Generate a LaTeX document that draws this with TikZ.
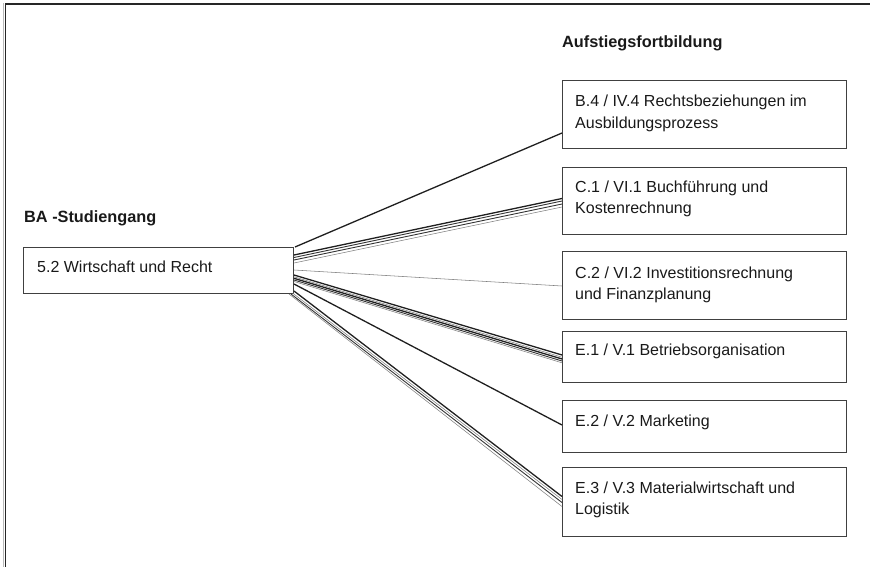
\documentclass[tikz,border=0pt]{standalone}
\usepackage{fontspec}
\setmainfont{Liberation Sans}
\usetikzlibrary{calc}
\begin{document}
\begin{tikzpicture}[x=1pt,y=-1pt,
  box/.style={draw=black!75, line width=1pt, inner sep=0pt, anchor=north west, minimum width=284pt},
  txt/.style={anchor=base west, inner sep=0pt, text=black!90},
  ttl/.style={anchor=base west, inner sep=0pt, text=black!90, font=\fontsize{16.3}{20}\selectfont\bfseries},
  con/.style={line width=1.3pt, draw=black!88},
  conb/.style={line width=0.9pt, draw=black!80},
  cong/.style={line width=0.55pt, draw=black!50},
]
\newcommand{\boxtext}[1]{\parbox[t]{272pt}{\raggedright\fontsize{16}{21}\selectfont #1}}
\useasboundingbox (0,0) rectangle (870,567);
% frame
\draw[gray!55, line width=0.9pt] (3,567) -- (3,3);
\draw[black!85, line width=1.6pt] (5.5,567) -- (5.5,3.8) -- (870,3.8);

% headings
\node[ttl] (hd1) at (562,48) {Aufstiegsfortbildung};
\node[ttl] (hd2) at (24,222) {BA -Studiengang};

% left box
\node[box, minimum width=270pt, minimum height=46pt] (a) at (23,247) {};
\node[txt] (t0) at ($(a.north west)+(14,25)$) {\boxtext{5.2 Wirtschaft und Recht}};

% right boxes
\node[box, minimum height=68pt] (b1) at (562,80) {};
\node[box, minimum height=67pt] (b2) at (562,167) {};
\node[box, minimum height=68pt] (b3) at (562,251) {};
\node[box, minimum height=51pt] (b4) at (562,331) {};
\node[box, minimum height=52pt] (b5) at (562,400) {};
\node[box, minimum height=69pt] (b6) at (562,467) {};

\node[txt] (t1) at ($(b1.north west)+(13,27)$) {\boxtext{B.4 / IV.4 Rechtsbeziehungen im\\Ausbildungsprozess}};
\node[txt] (t2) at ($(b2.north west)+(13,25)$) {\boxtext{C.1 / VI.1 Buchführung und\\Kostenrechnung}};
\node[txt] (t3) at ($(b3.north west)+(13,27)$) {\boxtext{C.2 / VI.2 Investitionsrechnung\\und Finanzplanung}};
\node[txt] (t4) at ($(b4.north west)+(13,24)$) {\boxtext{E.1 / V.1 Betriebsorganisation}};
\node[txt] (t5) at ($(b5.north west)+(13,26)$) {\boxtext{E.2 / V.2 Marketing}};
\node[txt] (t6) at ($(b6.north west)+(13,26)$) {\boxtext{E.3 / V.3 Materialwirtschaft und\\Logistik}};

% connectors
% to b1
\draw[con] ($(a.north east)+(1,0)$) -- ($(b1.north west)+(0,53)$);
% to b2 (bundle)
\draw[con]  ($(a.north east)+(0,8)$)    -- ($(b2.north west)+(0,31.5)$);
\draw[conb] ($(a.north east)+(0,10.5)$) -- ($(b2.north west)+(0,34)$);
\draw[conb] ($(a.north east)+(0,13)$)   -- ($(b2.north west)+(0,37)$);
\draw[cong] ($(a.north east)+(0,16)$)   -- ($(b2.north west)+(0,40)$);
% to b3 (thin)
\draw[cong] ($(a.north east)+(0,23)$) -- ($(b3.north west)+(0,35)$);
% to b4 (thick bundle)
\draw[con]  ($(a.north east)+(0,28)$)   -- ($(b4.north west)+(0,24)$);
\draw[cong] ($(a.north east)+(0,29.8)$) -- ($(b4.north west)+(0,26.2)$);
\draw[con]  ($(a.north east)+(0,31.3)$) -- ($(b4.north west)+(0,28)$);
\draw[conb] ($(a.north east)+(0,33)$)   -- ($(b4.north west)+(0,30)$);
\draw[cong] ($(a.north east)+(0,34.5)$) -- ($(b4.north west)+(0,31.8)$);
% to b5
\draw[con] ($(a.north east)+(0,37)$) -- ($(b5.north west)+(0,25)$);
% to b6 (bundle)
\draw[con]  ($(a.south east)+(0,-3)$)   -- ($(b6.north west)+(0,29.5)$);
\draw[cong] ($(a.south east)+(-1.5,-1)$) -- ($(b6.north west)+(0,32.5)$);
\draw[conb] ($(a.south east)+(-3,0)$)   -- ($(b6.north west)+(0,35.5)$);
\draw[cong] ($(a.south east)+(-5,0)$)   -- ($(b6.north west)+(0,39.5)$);
\end{tikzpicture}
\end{document}
